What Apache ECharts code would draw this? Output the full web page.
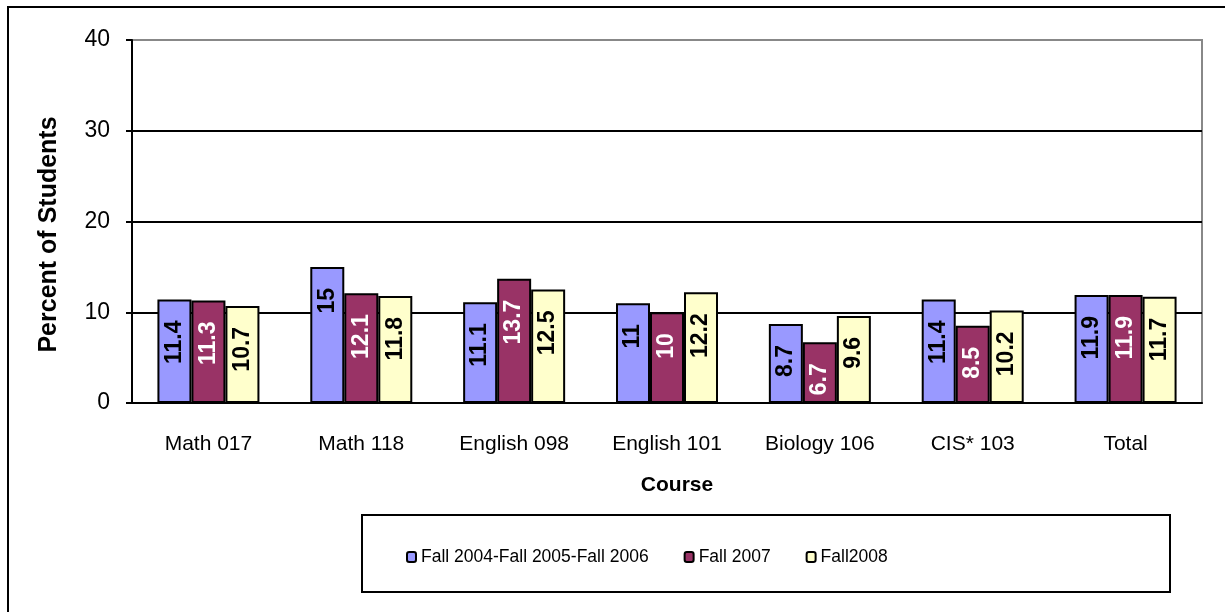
<!DOCTYPE html>
<html>
<head>
<meta charset="utf-8">
<script src="https://cdn.jsdelivr.net/npm/echarts@6/dist/echarts.min.js"></script>
<style>
  body { margin: 0; padding: 0; background: #fff; }
  #main { width: 1225px; height: 612px; }
</style>
</head>
<body>
<div id="main"></div>
<script>
const courses = ['Math 017', 'Math 118', 'English 098', 'English 101', 'Biology 106', 'CIS* 103', 'Total']
const fall0406 = [11.4, 15, 11.1, 11, 8.7, 11.4, 11.9]
const fall2007 = [11.3, 12.1, 13.7, 10, 6.7, 8.5, 11.9]
const fall2008 = [10.7, 11.8, 12.5, 12.2, 9.6, 10.2, 11.7]
const yTicks = [0, 10, 20, 30, 40]

const font = 'Liberation Sans, Arial, sans-serif'

function barLabel (color) {
  return {
    show: true,
    position: 'insideTop',
    distance: 21,
    rotate: 90,
    align: 'right',
    verticalAlign: 'middle',
    color: color,
    fontFamily: font,
    fontSize: 23,
    fontWeight: 'bold'
  }
}

function makeSeries (name, data, fill, labelColor) {
  return {
    name: name,
    type: 'bar',
    data: data,
    barWidth: 34,
    barGap: '0%',
    itemStyle: {
      color: fill,
      borderColor: '#000',
      borderWidth: 2
    },
    label: barLabel(labelColor)
  }
}

const chart = echarts.init(document.getElementById('main'))
chart.setOption({
  animation: false,
  backgroundColor: '#fff',
  textStyle: { fontFamily: font },
  graphic: [
    {
      type: 'rect',
      shape: { x: 8, y: 7, width: 1240, height: 640 },
      style: { fill: 'none', stroke: '#000', lineWidth: 2 },
      z: -10
    },
    {
      type: 'rect',
      shape: { x: 362, y: 515, width: 808, height: 77 },
      style: { fill: 'none', stroke: '#000', lineWidth: 2 },
      z: -10
    }
  ],
  grid: {
    left: 132,
    top: 40,
    right: 23,
    bottom: 209,
    show: true,
    borderColor: '#888',
    borderWidth: 2
  },
  legend: {
    left: 406,
    top: 548,
    padding: 0,
    itemWidth: 9,
    itemHeight: 10,
    itemGap: 35,
    textStyle: { fontFamily: font, fontSize: 17.5, color: '#000' },
    data: ['Fall 2004-Fall 2005-Fall 2006', 'Fall 2007', 'Fall2008']
  },
  xAxis: {
    type: 'category',
    data: courses,
    name: 'Course',
    nameLocation: 'middle',
    nameGap: 72,
    nameTextStyle: {
      fontFamily: font,
      fontSize: 21,
      fontWeight: 'bold',
      color: '#000',
      padding: [0, 0, 0, 20]
    },
    axisLine: { lineStyle: { color: '#000', width: 2 } },
    axisTick: { length: 7, lineStyle: { color: '#000', width: 2 } },
    axisLabel: { margin: 31, fontFamily: font, fontSize: 21, color: '#000' }
  },
  yAxis: {
    type: 'value',
    min: yTicks[0],
    max: yTicks[yTicks.length - 1],
    interval: 10,
    name: 'Percent of Students',
    nameLocation: 'middle',
    nameGap: 70,
    nameTextStyle: {
      fontFamily: font,
      fontSize: 25,
      fontWeight: 'bold',
      color: '#000',
      padding: [0, 26, 0, 0]
    },
    axisLine: { show: true, lineStyle: { color: '#000', width: 2 } },
    axisTick: { show: true, length: 6, lineStyle: { color: '#000', width: 2 } },
    axisLabel: { margin: 22, fontFamily: font, fontSize: 23, color: '#000' },
    splitLine: {
      show: true,
      lineStyle: { color: ['#000', '#000', '#000', '#000', '#888'], width: 2 }
    }
  },
  series: [
    makeSeries('Fall 2004-Fall 2005-Fall 2006', fall0406, '#9999FF', '#000'),
    makeSeries('Fall 2007', fall2007, '#993366', '#fff'),
    makeSeries('Fall2008', fall2008, '#FFFFCC', '#000')
  ]
})
</script>
</body>
</html>
